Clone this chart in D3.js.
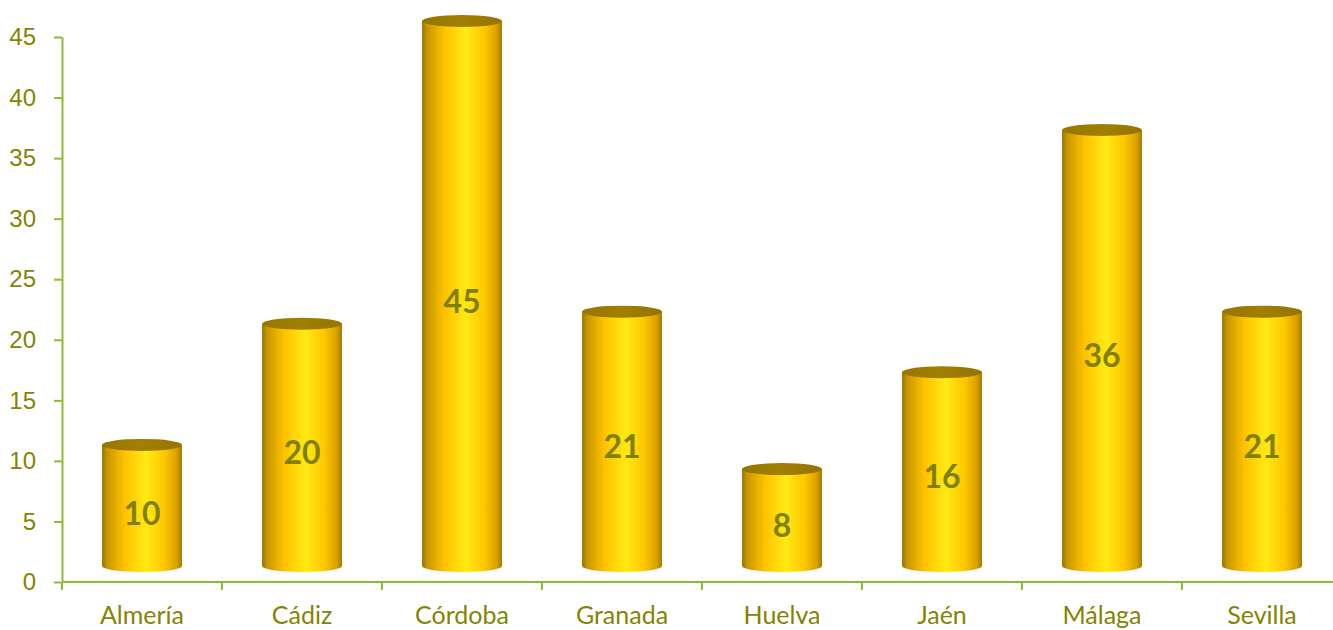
<!DOCTYPE html>
<html>
<head>
<meta charset="utf-8">
<script src="https://cdn.jsdelivr.net/npm/d3@7"></script>
<style>
  body { margin: 0; background: #fff; }
  svg { display: block; }
</style>
</head>
<body>
<div id="chart"></div>
<script>
// datos
const provincias = ['Almería', 'Cádiz', 'Córdoba', 'Granada', 'Huelva', 'Jaén', 'Málaga', 'Sevilla'];
const valores = [10, 20, 45, 21, 8, 16, 36, 21];
const ticksY = [0, 5, 10, 15, 20, 25, 30, 35, 40, 45];

const width = 1333, height = 630;
const margin = { left: 62, top: 37, bottom: 48 };
const depth = 16; // desplazamiento 3d
const axisColor = '#8abd36';
const textColor = '#848400';

const svg = d3.select('#chart').append('svg')
  .attr('width', width)
  .attr('height', height)
  .style('font-family', 'Lato, sans-serif');

const defs = svg.append('defs');
const grad = defs.append('linearGradient')
  .attr('id', 'cyl')
  .attr('x1', 0).attr('x2', 1).attr('y1', 0).attr('y2', 0);
[[0, '#9c7600'], [0.07, '#c99800'], [0.28, '#ffc200'], [0.55, '#ffe915'], [0.78, '#ffc600'], [0.93, '#d8a200'], [1, '#a57d00']]
  .forEach(s => grad.append('stop').attr('offset', s[0]).attr('stop-color', s[1]));

const gradTop = defs.append('linearGradient')
  .attr('id', 'cylTop')
  .attr('x1', 0).attr('x2', 1).attr('y1', 0).attr('y2', 0);
[[0, '#977500'], [0.5, '#a07f00'], [1, '#957300']]
  .forEach(s => gradTop.append('stop').attr('offset', s[0]).attr('stop-color', s[1]));

// escalas
const x = d3.scaleBand()
  .domain(provincias)
  .range([margin.left, margin.left + 160 * provincias.length]);

const y = d3.scaleLinear()
  .domain([0, 45])
  .range([height - margin.bottom, margin.top]);

// eje Y
const yAxis = svg.append('g')
  .attr('transform', `translate(${margin.left},0)`)
  .call(d3.axisLeft(y).tickValues(ticksY).tickSize(8).tickPadding(18).tickSizeOuter(0));
yAxis.select('.domain').attr('stroke', axisColor).attr('stroke-width', 2);
yAxis.selectAll('.tick line').attr('stroke', axisColor).attr('stroke-width', 2);
yAxis.selectAll('.tick text').attr('fill', textColor).style('font-size', '24px');

// eje X
const xAxis = svg.append('g')
  .attr('transform', `translate(0,${y(0)})`);
xAxis.append('line')
  .attr('x1', margin.left).attr('x2', width)
  .attr('stroke', axisColor).attr('stroke-width', 2);
xAxis.selectAll('line.tk')
  .data(provincias)
  .join('line')
  .attr('class', 'tk')
  .attr('x1', d => x(d)).attr('x2', d => x(d))
  .attr('y1', 0).attr('y2', 8)
  .attr('stroke', axisColor).attr('stroke-width', 2);
xAxis.selectAll('text')
  .data(provincias)
  .join('text')
  .attr('x', d => x(d) + x.bandwidth() / 2)
  .attr('y', 42)
  .attr('text-anchor', 'middle')
  .attr('fill', textColor)
  .style('font-size', '25px')
  .text(d => d);

// cilindros
const rx = 40, ry = 6;
const bars = svg.append('g')
  .selectAll('g')
  .data(provincias.map((p, i) => ({ p, v: valores[i] })))
  .join('g');

bars.append('ellipse')
  .attr('cx', d => x(d.p) + x.bandwidth() / 2)
  .attr('cy', y(0) - depth)
  .attr('rx', rx).attr('ry', ry)
  .attr('fill', 'url(#cyl)');

bars.append('rect')
  .attr('x', d => x(d.p) + x.bandwidth() / 2 - rx)
  .attr('y', d => y(d.v) - depth)
  .attr('width', rx * 2)
  .attr('height', d => y(0) - y(d.v))
  .attr('fill', 'url(#cyl)');

bars.append('ellipse')
  .attr('cx', d => x(d.p) + x.bandwidth() / 2)
  .attr('cy', d => y(d.v) - depth)
  .attr('rx', rx).attr('ry', ry)
  .attr('fill', 'url(#cylTop)');

bars.append('text')
  .attr('x', d => x(d.p) + x.bandwidth() / 2)
  .attr('y', d => y(d.v / 2) - depth / 2)
  .attr('dy', '0.35em')
  .attr('text-anchor', 'middle')
  .attr('fill', '#7f8000')
  .style('font-size', '32px')
  .style('font-weight', 'bold')
  .text(d => d.v);
</script>
</body>
</html>
